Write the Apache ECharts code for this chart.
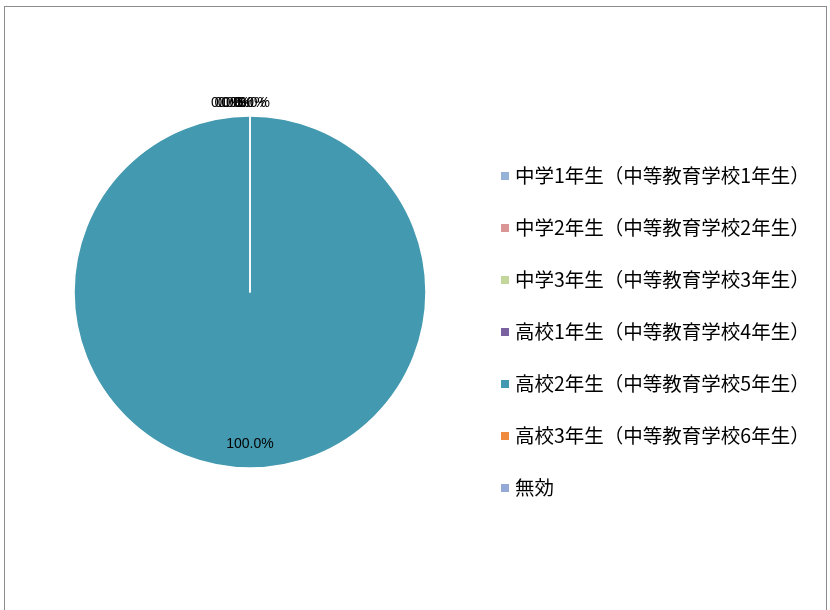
<!DOCTYPE html>
<html>
<head>
<meta charset="utf-8">
<script src="https://cdn.jsdelivr.net/npm/echarts@6/dist/echarts.min.js"></script>
<style>
html,body{margin:0;padding:0;background:#fff;}
#frame{position:absolute;left:4px;top:6px;width:823px;height:620px;border:1px solid #8c8c8c;box-sizing:border-box;}
#c{position:absolute;left:0;top:0;width:830px;height:610px;}
</style>
</head>
<body>
<div id="frame"></div>
<div id="c"></div>
<script>
var categories = [
  '中学1年生（中等教育学校1年生）',
  '中学2年生（中等教育学校2年生）',
  '中学3年生（中等教育学校3年生）',
  '高校1年生（中等教育学校4年生）',
  '高校2年生（中等教育学校5年生）',
  '高校3年生（中等教育学校6年生）',
  '無効'
];
var values = [0, 0, 0, 0, 100, 0, 0];
var colors = ['#95B3D7', '#D99694', '#C3D69B', '#7A62A0', '#4399AF', '#EE8B3E', '#95A9D6'];

var total = values.reduce(function(a, b){ return a + b; }, 0);
function pct(v){ return (total ? v / total * 100 : 0).toFixed(1) + '%'; }

var mainData = categories.map(function(n, i){
  return { name: n, value: values[i], itemStyle: { color: colors[i] },
    label: { show: values[i] / total < 0.5 } };
});
var overlayData = categories.map(function(n, i){
  return { name: n, value: values[i],
    label: { show: values[i] / total >= 0.5 } };
});

var labelFont = '"Liberation Sans", Arial, sans-serif';

var chart = echarts.init(document.getElementById('c'));
chart.setOption({
  animation: false,
  textStyle: { fontFamily: '"Noto Sans CJK JP", "Noto Sans", sans-serif' },
  legend: {
    orient: 'vertical',
    left: 499,
    top: 164,
    padding: 0,
    icon: 'rect',
    itemWidth: 10,
    itemHeight: 10,
    itemGap: 28,
    data: categories,
    textStyle: { fontSize: 19.5, color: '#000', lineHeight: 24,
      fontFamily: '"Noto Sans CJK JP", sans-serif' }
  },
  series: [
    {
      type: 'pie',
      center: [250, 292],
      radius: [0, 176],
      startAngle: 90,
      clockwise: true,
      avoidLabelOverlap: false,
      stillShowZeroSum: true,
      silent: true,
      itemStyle: { borderColor: '#fff', borderWidth: 1.5 },
      label: {
        position: 'outside',
        formatter: function(p){ return pct(p.value); },
        fontSize: 14,
        color: '#000',
        fontFamily: labelFont
      },
      labelLine: { show: false, length: 3, length2: 0 },
      labelLayout: function(p){
        var k = [0, 1, 2, 3, 3, 4, 5][p.dataIndex];
        return { align: 'center', dx: -18 + 3.4 * k, dy: -10 };
      },
      data: mainData
    },
    {
      type: 'pie',
      center: [250, 292],
      radius: [0, 298],
      startAngle: 90,
      clockwise: true,
      silent: true,
      avoidLabelOverlap: false,
      itemStyle: { color: 'rgba(0,0,0,0)', borderWidth: 0 },
      label: {
        position: 'inside',
        formatter: function(p){ return pct(p.value); },
        fontSize: 14,
        color: '#000',
        fontFamily: labelFont
      },
      labelLine: { show: false },
      emphasis: { disabled: true },
      data: overlayData,
      z: 3
    }
  ]
});
</script>
</body>
</html>
